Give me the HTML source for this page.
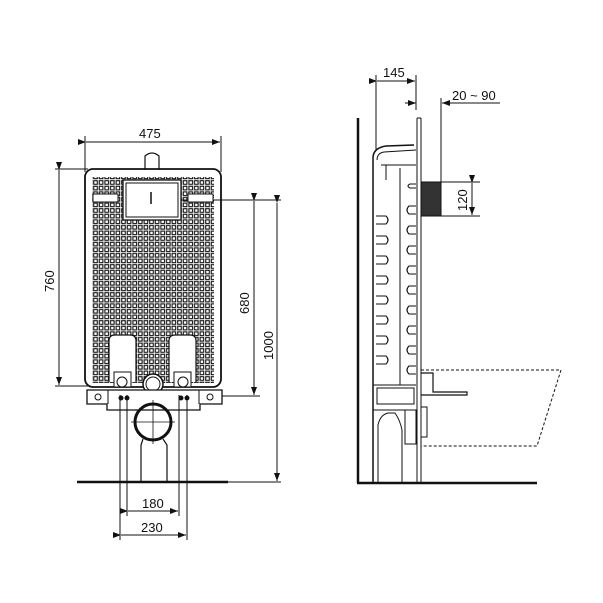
<!DOCTYPE html>
<html><head><style>
html,body{margin:0;padding:0;background:#fff;}
svg{display:block;}
text{font-family:"Liberation Sans",sans-serif;font-size:13px;fill:#111;}
</style></head><body>
<svg width="603" height="603" viewBox="0 0 603 603" xmlns="http://www.w3.org/2000/svg">
<defs>
<pattern id="g" x="93" y="180" width="5.6" height="5.6" patternUnits="userSpaceOnUse">
<rect x="0.7" y="0.7" width="3.6" height="3.6" fill="none" stroke="#111" stroke-width="1.1"/>
</pattern>
<marker id="a" markerWidth="8" markerHeight="6" refX="8" refY="3" orient="auto" markerUnits="userSpaceOnUse">
<path d="M0,0 L8,3 L0,6 z" fill="#111"/></marker>
</defs>
<g stroke="#111" fill="none" stroke-width="1">
<line x1="85" y1="136" x2="85" y2="172"/><line x1="221" y1="136" x2="221" y2="172"/>
<line x1="86" y1="142" x2="220" y2="142" marker-start="url(#a)" marker-end="url(#a)"/>
<line x1="55" y1="169" x2="88" y2="169"/><line x1="55" y1="386" x2="88" y2="386"/>
<line x1="59" y1="170" x2="59" y2="385" marker-start="url(#a)" marker-end="url(#a)"/>
<line x1="178" y1="200" x2="281" y2="200"/><line x1="220" y1="396" x2="260" y2="396"/>
<line x1="254" y1="201" x2="254" y2="395" marker-start="url(#a)" marker-end="url(#a)"/>
<line x1="277" y1="203" x2="277" y2="481" marker-start="url(#a)" marker-end="url(#a)"/>
<line x1="228" y1="482" x2="281" y2="482"/>
<path d="M145,170 L145,156 Q152,150 159,156 L159,170" stroke-width="1.2"/>
<rect x="85" y="169" width="136" height="218" rx="8" stroke-width="1.8"/>
<rect x="92" y="177" width="122" height="206" fill="url(#g)" stroke="none"/>
<rect x="123" y="180" width="58" height="40" fill="#fff" stroke-width="1.3"/>
<rect x="126" y="183" width="52" height="34" fill="#fff"/>
<line x1="151" y1="192" x2="151" y2="204" stroke-width="1.5"/>
<rect x="93" y="194" width="25" height="8" fill="#fff"/>
<rect x="188" y="194" width="25" height="8" fill="#fff"/>
<path d="M109,382 L109,341 Q109,335 115,335 L130,335 Q136,335 136,341 L136,382" fill="#fff" stroke-width="1.2"/>
<path d="M169,382 L169,341 Q169,335 175,335 L190,335 Q196,335 196,341 L196,382" fill="#fff" stroke-width="1.2"/>
<rect x="114" y="372" width="17" height="15" fill="#fff"/>
<rect x="174" y="372" width="17" height="15" fill="#fff"/>
<circle cx="122" cy="382" r="5" fill="#fff"/><circle cx="183" cy="382" r="5" fill="#fff"/>
<circle cx="153" cy="384" r="10" fill="#fff" stroke-width="1.5"/><circle cx="153" cy="384" r="7"/>
<path d="M87,390 L222,390 L222,404 L200,404 L200,410 L107,410 L107,404 L87,404 Z" fill="#fff" stroke-width="1.3"/>
<line x1="108" y1="390" x2="108" y2="404"/><line x1="199" y1="390" x2="199" y2="404"/>
<circle cx="127" cy="398" r="2" fill="#111"/><circle cx="121" cy="398" r="2" fill="#111"/>
<circle cx="181" cy="398" r="2" fill="#111"/><circle cx="187" cy="398" r="2" fill="#111"/>
<circle cx="98" cy="397" r="3"/><circle cx="210" cy="397" r="3"/>
<circle cx="153" cy="422" r="18" stroke-width="3"/>
<line x1="131" y1="422" x2="175" y2="422" stroke-width="0.8"/>
<line x1="153" y1="400" x2="153" y2="444" stroke-width="0.8"/>
<path d="M143,439 L141,445 L141,482 M163,439 L167,445 L167,482" stroke-width="1.2"/>
<line x1="120" y1="395" x2="120" y2="540"/><line x1="127" y1="395" x2="127" y2="516"/>
<line x1="179" y1="395" x2="179" y2="516"/><line x1="187" y1="395" x2="187" y2="540"/>
<line x1="77" y1="482" x2="228" y2="482" stroke-width="2.5"/>
<line x1="128" y1="511" x2="178" y2="511" marker-start="url(#a)" marker-end="url(#a)"/>
<line x1="121" y1="535" x2="186" y2="535" marker-start="url(#a)" marker-end="url(#a)"/>

<line x1="358" y1="118" x2="358" y2="483" stroke-width="2.5"/>
<line x1="357" y1="483" x2="537" y2="483" stroke-width="2.5"/>
<line x1="417" y1="118" x2="417" y2="483"/><line x1="421" y1="118" x2="421" y2="483"/>
<line x1="417" y1="118" x2="421" y2="118"/>
<line x1="376" y1="75" x2="376" y2="150"/><line x1="416" y1="75" x2="416" y2="110"/>
<line x1="377" y1="81" x2="415" y2="81" marker-start="url(#a)" marker-end="url(#a)"/>
<line x1="441" y1="98" x2="441" y2="182"/>
<line x1="405" y1="103" x2="416" y2="103" marker-end="url(#a)"/>
<line x1="500" y1="103" x2="442" y2="103" marker-end="url(#a)"/>
<rect x="421" y="182" width="20" height="34" fill="#333"/>
<line x1="441" y1="182" x2="480" y2="182"/><line x1="441" y1="216" x2="480" y2="216"/>
<line x1="472" y1="183" x2="472" y2="215" marker-start="url(#a)" marker-end="url(#a)"/>
<path d="M373,483 L373,158 Q373,148 386,146 L414,145" stroke-width="1.5"/>
<path d="M377,160 Q377,153 384,152 L416,150" />
<line x1="381" y1="165" x2="416" y2="165"/>
<line x1="386" y1="165" x2="386" y2="180"/>
<line x1="400" y1="168" x2="400" y2="385"/>
<line x1="373" y1="385" x2="416" y2="385"/>
<g stroke-width="1.1">
<path d="M416,184 L410,184 Q406,186 410,188 L416,188"/>
<path d="M416,206 L409,206 Q405,210 409,214 L416,214"/>
<path d="M416,226 L409,226 Q405,230 409,234 L416,234"/>
<path d="M416,246 L409,246 Q405,250 409,254 L416,254"/>
<path d="M416,266 L409,266 Q405,270 409,274 L416,274"/>
<path d="M416,286 L409,286 Q405,290 409,294 L416,294"/>
<path d="M416,306 L409,306 Q405,310 409,314 L416,314"/>
<path d="M416,326 L409,326 Q405,330 409,334 L416,334"/>
<path d="M416,346 L409,346 Q405,350 409,354 L416,354"/>
<path d="M416,366 L409,366 Q405,370 409,374 L416,374"/>
<path d="M376,216 L386,216 Q390,220 386,224 L376,224"/>
<path d="M376,236 L386,236 Q390,240 386,244 L376,244"/>
<path d="M376,256 L386,256 Q390,260 386,264 L376,264"/>
<path d="M376,276 L386,276 Q390,280 386,284 L376,284"/>
<path d="M376,296 L386,296 Q390,300 386,304 L376,304"/>
<path d="M376,316 L386,316 Q390,320 386,324 L376,324"/>
<path d="M376,336 L386,336 Q390,340 386,344 L376,344"/>
<path d="M376,356 L386,356 Q390,360 386,364 L376,364"/>
</g>
<rect x="377" y="388" width="37" height="16"/>
<path d="M373,410 L412,410"/>
<path d="M378,483 L378,425 Q380,415 388,413 L395,413 Q400,420 402,430 L402,483"/>
<rect x="405" y="410" width="11" height="34"/>
<rect x="421" y="407" width="6" height="30" fill="#fff"/>
<path d="M421,373 L433,373 L433,392 L467,392 L467,395 L421,395" stroke-width="1.2"/>
<path d="M421,370 L561,370 L537,446 L421,446" stroke-dasharray="3,2"/>
</g>
<text x="139" y="138">475</text>
<text transform="translate(54,292) rotate(-90)">760</text>
<text transform="translate(249,314) rotate(-90)">680</text>
<text transform="translate(273,360) rotate(-90)">1000</text>
<text x="142" y="508">180</text>
<text x="141" y="532">230</text>
<text x="383" y="77">145</text>
<text x="452" y="100">20 ~ 90</text>
<text transform="translate(467,211) rotate(-90)">120</text>
</svg>
</body></html>
